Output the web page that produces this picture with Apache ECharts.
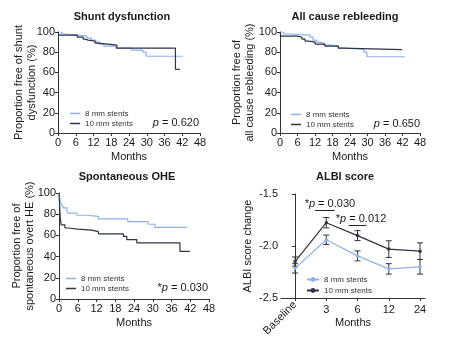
<!DOCTYPE html>
<html>
<head>
<meta charset="utf-8">
<script src="https://cdn.jsdelivr.net/npm/echarts@6/dist/echarts.min.js"></script>
<style>
  html, body { margin: 0; padding: 0; background: #fff; }
  #chart { width: 454px; height: 343px; }
</style>
</head>
<body>
<div id="chart"></div>
<script>
// Kaplan–Meier curves: [month, % event-free]
const shunt8 = [[0,100],[1.3,98],[2.2,97],[6.5,96],[9.8,94],[11.3,92],[12.8,90],[14,88],[15.5,86],[19.5,84],[24.8,82],[28.7,80],[29.8,76],[42.2,76]];
const shunt10 = [[0,100],[0.3,97],[6.5,95],[8.5,93],[9.2,92],[10.2,91],[12.5,89],[13.5,88],[16.8,87],[19.9,84],[39.7,84],[39.7,63],[41.2,63]];

const rebleed8 = [[0,100],[1.3,98],[3,97],[10.3,95],[11.3,92],[12.5,90],[13.5,89],[15,87],[17.5,86],[20,84],[22,83],[28.7,80],[29.8,75.5],[42.8,75.5]];
const rebleed10 = [[0,100],[0.3,96],[5.8,95],[7.5,93],[8.6,91],[9.8,90],[12,88],[15.4,86],[20,84],[21.2,82.5],[41.8,82.5]];

const ohe8 = [[0,100],[0.4,92],[0.9,89],[1.5,86],[2.5,83],[3,81],[5.7,79],[8.9,78],[12.6,75.5],[22,73],[28.5,70.5],[30.7,67.5],[41,67.5]];
const ohe10 = [[0,100],[0.2,88],[0.4,76],[0.7,70],[1.9,67],[3,66],[6,65],[10.5,63.5],[12.6,61.5],[20.6,59],[21.7,56],[24.9,53],[38.7,45],[41.9,45]];

// ALBI score change: mean and SEM at each time point
const albiTimes = ['Baseline', '3', '6', '12', '24'];
const albi8Mean = [-2.215, -1.94, -2.095, -2.22, -2.20];
const albi8Sem  = [0.045, 0.045, 0.048, 0.05, 0.07];
const albi10Mean = [-2.15, -1.776, -1.90, -2.03, -2.05];
const albi10Sem  = [0.045, 0.05, 0.048, 0.08, 0.08];

const seriesNames = ['8 mm stents', '10 mm stents'];
const pValues = ['0.620', '0.650', '0.030'];

const FONT = "'Liberation Sans', Arial, Helvetica, sans-serif";
const C8 = '#8db1ec';
const C10 = '#2e3345';
const AXIS = '#333';
const TXT = '#1a1a1a';

const chart = echarts.init(document.getElementById('chart'), null, { renderer: 'canvas' });

const axisCommon = {
  axisLine: { show: true, lineStyle: { color: AXIS, width: 1 } },
  axisTick: { show: true, length: 3, lineStyle: { color: AXIS } },
  splitLine: { show: false },
  nameMoveOverlap: false,
  nameTextStyle: { fontFamily: FONT, fontSize: 11, color: TXT },
};

function kmX(gi) {
  return Object.assign({}, axisCommon, {
    gridIndex: gi, type: 'value', position: 'bottom', min: 0, max: 48, interval: 6,
    name: 'Months', nameLocation: 'middle', nameGap: 18,
    axisLabel: { margin: 4, fontFamily: FONT, fontSize: 11, color: TXT },
  });
}
function kmY(gi, name, gap) {
  return Object.assign({}, axisCommon, {
    gridIndex: gi, type: 'value', position: 'left', min: 0, max: 100, interval: 20,
    name: name, nameLocation: 'middle', nameRotate: 90, nameGap: gap,
    nameTextStyle: { fontFamily: FONT, fontSize: 11, color: TXT, lineHeight: 13, align: 'center' },
    axisLabel: { margin: 3, fontFamily: FONT, fontSize: 11, color: TXT },
  });
}

function kmSeries(name, data, gi, color) {
  return {
    name: name, type: 'line', step: 'end', data: data,
    xAxisIndex: gi, yAxisIndex: gi,
    symbol: 'none', lineStyle: { color: color, width: 1.2 }, itemStyle: { color: color },
    silent: true, animation: false,
  };
}

function errorBars(params, api) {
  const x = api.value(0);
  const lo = api.coord([x, api.value(1)]);
  const hi = api.coord([x, api.value(2)]);
  const w = 3;
  const style = { stroke: '#333', lineWidth: 1 };
  return {
    type: 'group',
    children: [
      { type: 'line', shape: { x1: lo[0], y1: lo[1], x2: hi[0], y2: hi[1] }, style: style },
      { type: 'line', shape: { x1: lo[0] - w, y1: lo[1], x2: lo[0] + w, y2: lo[1] }, style: style },
      { type: 'line', shape: { x1: hi[0] - w, y1: hi[1], x2: hi[0] + w, y2: hi[1] }, style: style },
    ],
  };
}

function albiLine(name, mean, color, extra) {
  return Object.assign({
    name: name, type: 'line', xAxisIndex: 3, yAxisIndex: 3,
    data: mean.map((v, i) => [i, v]),
    symbol: 'circle', symbolSize: 3.5, showSymbol: true,
    lineStyle: { color: color, width: 1.2 }, itemStyle: { color: color },
    silent: true, animation: false, z: 3,
  }, extra || {});
}
function albiErr(mean, sem) {
  return {
    type: 'custom', xAxisIndex: 3, yAxisIndex: 3, renderItem: errorBars,
    data: mean.map((v, i) => [i, v - sem[i], v + sem[i]]),
    silent: true, animation: false, z: 2,
  };
}

const sigLabel = (p, dx) => ({
  show: true, position: 'middle', distance: 1, offset: [dx, 0],
  formatter: '*{i|p} = ' + p,
  fontFamily: FONT, fontSize: 11, color: TXT,
  rich: { i: { fontStyle: 'italic', fontFamily: FONT, fontSize: 11, color: TXT } },
});

const legendBase = {
  orient: 'vertical', padding: 0, itemGap: 1, selectedMode: false,
  textStyle: { fontFamily: FONT, fontSize: 8, color: '#333', lineHeight: 9 },
};
function kmLegend(left, top) {
  return Object.assign({}, legendBase, {
    left: left, top: top, itemWidth: 10, itemHeight: 1.5,
    data: seriesNames.map(n => ({ name: n, icon: 'rect' })),
  });
}

function textEl(x, y, text, opts) {
  return {
    type: 'text', x: x, y: y, silent: true,
    style: Object.assign({
      text: text, fill: TXT, fontFamily: FONT, fontSize: 11,
      align: 'center', verticalAlign: 'middle',
      rich: { i: { fontStyle: 'italic', fontFamily: FONT, fontSize: 11, fill: TXT } },
    }, opts || {}),
  };
}

const option = {
  backgroundColor: '#fff',
  animation: false,
  grid: [
    { left: 58, top: 32, width: 142, height: 101, outerBoundsMode: 'none' },
    { left: 280, top: 32, width: 140, height: 101, outerBoundsMode: 'none' },
    { left: 59, top: 193, width: 150, height: 106, outerBoundsMode: 'none' },
    { left: 281, top: 194, width: 144, height: 104, outerBoundsMode: 'none' },
  ],
  xAxis: [
    kmX(0), kmX(1), kmX(2),
    Object.assign({}, axisCommon, {
      gridIndex: 3, type: 'value', position: 'bottom', min: -0.45, max: 4.16,
      axisTick: { show: true, length: 3, lineStyle: { color: AXIS }, customValues: [0, 1, 2, 3, 4] },
      axisLabel: {
        customValues: [0], rotate: 45, margin: 5,
        formatter: v => albiTimes[Math.round(v)] || '',
        fontFamily: FONT, fontSize: 11, color: TXT,
      },
    }),
    Object.assign({}, axisCommon, {
      gridIndex: 3, type: 'value', position: 'bottom', offset: 0, min: -0.45, max: 4.16,
      axisLine: { show: false }, axisTick: { show: false },
      name: 'Months', nameLocation: 'middle', nameGap: 19,
      axisLabel: {
        customValues: [1, 2, 3, 4], margin: 6,
        formatter: v => albiTimes[Math.round(v)] || '',
        fontFamily: FONT, fontSize: 11, color: TXT,
      },
    }),
  ],
  yAxis: [
    kmY(0, 'Proportion free of shunt\ndysfunction (%)', 19.5),
    kmY(1, 'Proportion free of\nall cause rebleeding (%)', 24),
    kmY(2, 'Proportion free of\nspontaneous overt HE (%)', 22.5),
    Object.assign({}, axisCommon, {
      gridIndex: 3, type: 'value', position: 'left', min: -2.5, max: -1.5, interval: 0.5,
      name: 'ALBI score change', nameLocation: 'middle', nameRotate: 90, nameGap: 28,
      axisLabel: { margin: 3, formatter: v => v.toFixed(1), fontFamily: FONT, fontSize: 11, color: TXT },
    }),
  ],
  legend: [
    kmLegend(70, 109),
    kmLegend(291, 110),
    kmLegend(66, 274),
    Object.assign({}, legendBase, {
      left: 306, top: 275, itemWidth: 12, itemHeight: 6, itemGap: 2,
      data: seriesNames.slice(),
    }),
  ],
  series: [
    albiErr(albi8Mean, albi8Sem),
    albiErr(albi10Mean, albi10Sem),
    albiLine(seriesNames[0], albi8Mean, C8),
    albiLine(seriesNames[1], albi10Mean, C10, {
      markLine: {
        silent: true, symbol: 'none', animation: false,
        lineStyle: { color: '#222', width: 1, type: 'solid' },
        data: [
          [{ coord: [0.64, -1.66], label: sigLabel('0.030', 5) }, { coord: [1.27, -1.66] }],
          [{ coord: [1.72, -1.798], label: sigLabel('0.012', 3.5) }, { coord: [2.28, -1.798] }],
        ],
      },
    }),
    kmSeries(seriesNames[0], shunt8, 0, C8),
    kmSeries(seriesNames[1], shunt10, 0, C10),
    kmSeries(seriesNames[0], rebleed8, 1, C8),
    kmSeries(seriesNames[1], rebleed10, 1, C10),
    kmSeries(seriesNames[0], ohe8, 2, C8),
    kmSeries(seriesNames[1], ohe10, 2, C10),
  ],
  graphic: [
    textEl(122, 17, 'Shunt dysfunction', { fontWeight: 'bold', fontSize: 11 }),
    textEl(345, 17, 'All cause rebleeding', { fontWeight: 'bold', fontSize: 11 }),
    textEl(127, 177, 'Spontaneous OHE', { fontWeight: 'bold', fontSize: 11 }),
    textEl(345, 177, 'ALBI score', { fontWeight: 'bold', fontSize: 11 }),
    textEl(199, 123, '{i|p} = ' + pValues[0], { align: 'right' }),
    textEl(420, 124, '{i|p} = ' + pValues[1], { align: 'right' }),
    textEl(208, 288, '*{i|p} = ' + pValues[2], { align: 'right' }),
  ],
};

chart.setOption(option);
</script>
</body>
</html>
